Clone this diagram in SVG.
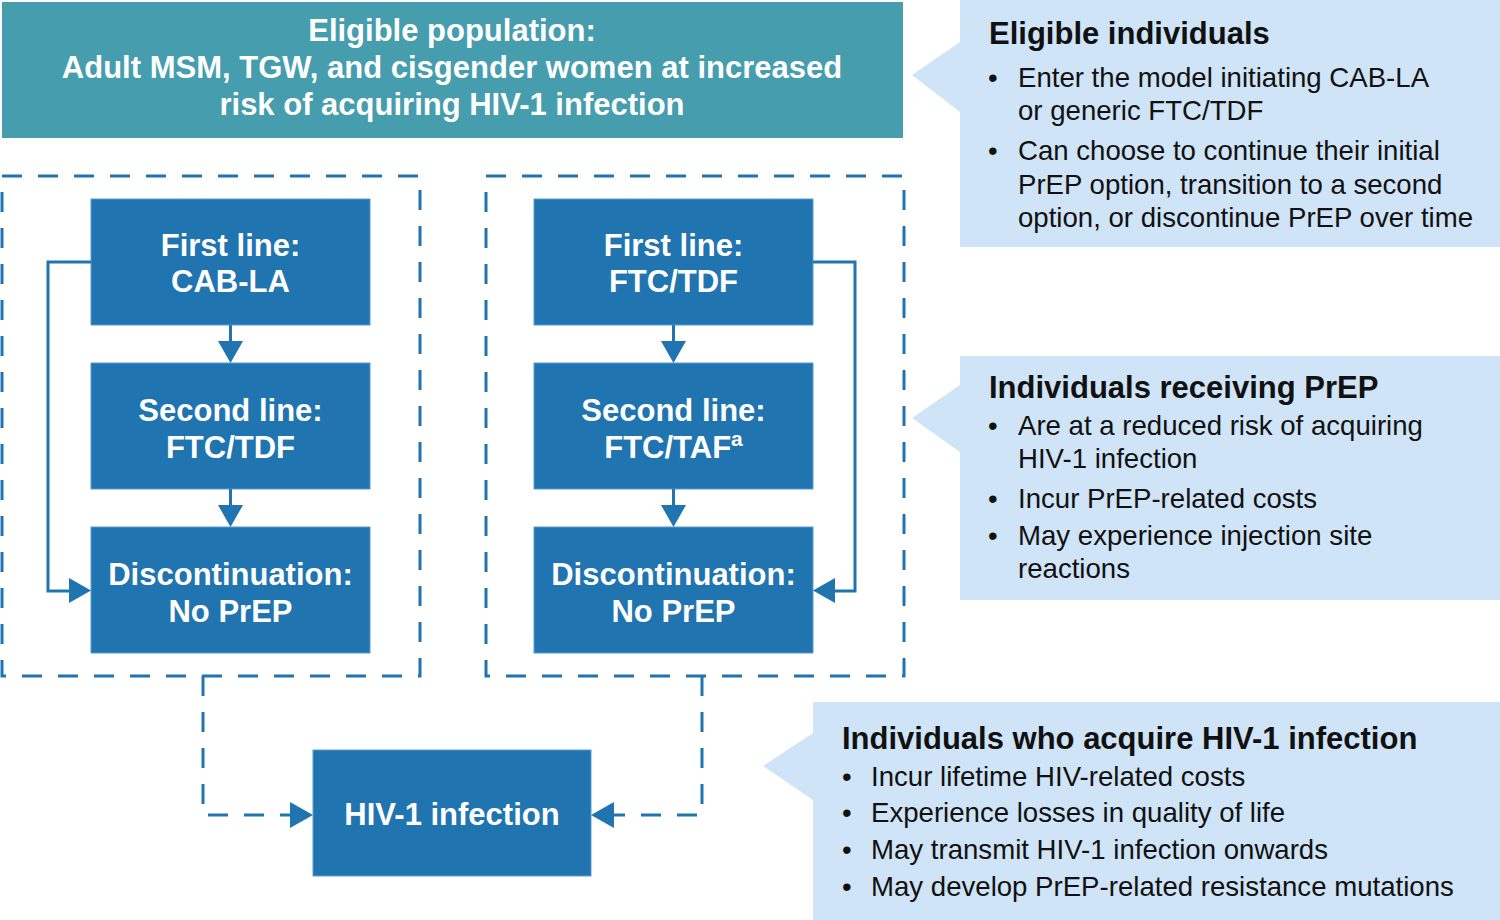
<svg xmlns="http://www.w3.org/2000/svg" width="1500" height="920" viewBox="0 0 1500 920">
<defs>
<style>
.box{fill:#2074b0;stroke:#5b9bd0;stroke-width:1}
.bt{font-family:"Liberation Sans",Arial,sans-serif;font-weight:bold;font-size:31px;fill:#fff;text-anchor:middle}
.dash{fill:none;stroke:#2074b0;stroke-width:3;stroke-dasharray:20 16}
.solid{fill:none;stroke:#2074b0;stroke-width:3}
.head{fill:#2074b0}
.call{fill:#cfe4f7}
.ct{font-family:"Liberation Sans",Arial,sans-serif;font-weight:bold;font-size:31px;fill:#111}
.cb{font-family:"Liberation Sans",Arial,sans-serif;font-size:27.6px;fill:#111}
</style>
</defs>
<rect width="1500" height="920" fill="#fff"/>

<g id="eligible-population">
<rect x="2" y="2" width="901" height="136" fill="#459dae"/>
<text class="bt" x="452" y="41">Eligible population:</text>
<text class="bt" x="452" y="78">Adult MSM, TGW, and cisgender women at increased</text>
<text class="bt" x="452" y="115">risk of acquiring HIV-1 infection</text>
</g>

<g id="group-cab">
<rect class="dash" x="2" y="176" width="418" height="500"/>
</g>
<g id="group-ftc">
<rect class="dash" x="486" y="176" width="418" height="500"/>
</g>

<g id="cab-first">
<rect class="box" x="91" y="199" width="279" height="126"/>
<text class="bt" x="230.5" y="256">First line:</text>
<text class="bt" x="230.5" y="292">CAB-LA</text>
</g>
<g id="cab-second">
<rect class="box" x="91" y="363" width="279" height="126"/>
<text class="bt" x="230.5" y="421">Second line:</text>
<text class="bt" x="230.5" y="458">FTC/TDF</text>
</g>
<g id="cab-disc">
<rect class="box" x="91" y="527" width="279" height="126"/>
<text class="bt" x="230.5" y="585">Discontinuation:</text>
<text class="bt" x="230.5" y="622">No PrEP</text>
</g>

<g id="ftc-first">
<rect class="box" x="534" y="199" width="279" height="126"/>
<text class="bt" x="673.5" y="256">First line:</text>
<text class="bt" x="673.5" y="292">FTC/TDF</text>
</g>
<g id="ftc-second">
<rect class="box" x="534" y="363" width="279" height="126"/>
<text class="bt" x="673.5" y="421">Second line:</text>
<text class="bt" x="673.5" y="458">FTC/TAF<tspan font-size="21" dy="-12">a</tspan></text>
</g>
<g id="ftc-disc">
<rect class="box" x="534" y="527" width="279" height="126"/>
<text class="bt" x="673.5" y="585">Discontinuation:</text>
<text class="bt" x="673.5" y="622">No PrEP</text>
</g>

<g id="hiv-infection">
<rect class="box" x="313" y="750" width="278" height="126"/>
<text class="bt" x="452" y="825">HIV-1 infection</text>
</g>

<g id="connectors">
<line class="solid" x1="230.5" y1="325" x2="230.5" y2="342"/>
<polygon class="head" points="218,341 243,341 230.5,363"/>
<line class="solid" x1="230.5" y1="489" x2="230.5" y2="506"/>
<polygon class="head" points="218,505 243,505 230.5,527"/>
<line class="solid" x1="673.5" y1="325" x2="673.5" y2="342"/>
<polygon class="head" points="661,341 686,341 673.5,363"/>
<line class="solid" x1="673.5" y1="489" x2="673.5" y2="506"/>
<polygon class="head" points="661,505 686,505 673.5,527"/>
<polyline class="solid" points="91,262 48,262 48,591 70,591"/>
<polygon class="head" points="69,578 69,603 91,590.5"/>
<polyline class="solid" points="813,262 855,262 855,591 834,591"/>
<polygon class="head" points="835,578 835,603 813,590.5"/>
<polyline class="dash" points="203,676 203,815 290,815"/>
<polygon class="head" points="290,802 290,828 313,815"/>
<polyline class="dash" points="702,676 702,815 614,815"/>
<polygon class="head" points="614,802 614,828 591,815"/>
</g>

<g id="callout-eligible">
<path class="call" d="M960,0 H1500 V247 H960 V112 L912,75 L960,42 Z"/>
<text class="ct" x="989" y="44">Eligible individuals</text>
<text class="cb" x="988" y="87">•</text>
<text class="cb" x="1018" y="87">Enter the model initiating CAB-LA</text>
<text class="cb" x="1018" y="120">or generic FTC/TDF</text>
<text class="cb" x="988" y="160">•</text>
<text class="cb" x="1018" y="160">Can choose to continue their initial</text>
<text class="cb" x="1018" y="194">PrEP option, transition to a second</text>
<text class="cb" x="1018" y="227">option, or discontinue PrEP over time</text>
</g>

<g id="callout-receiving">
<path class="call" d="M960,356 H1500 V600 H960 V452 L912,418 L960,385 Z"/>
<text class="ct" x="989" y="398">Individuals receiving PrEP</text>
<text class="cb" x="988" y="435">•</text>
<text class="cb" x="1018" y="435">Are at a reduced risk of acquiring</text>
<text class="cb" x="1018" y="468">HIV-1 infection</text>
<text class="cb" x="988" y="508">•</text>
<text class="cb" x="1018" y="508">Incur PrEP-related costs</text>
<text class="cb" x="988" y="545">•</text>
<text class="cb" x="1018" y="545">May experience injection site</text>
<text class="cb" x="1018" y="578">reactions</text>
</g>

<g id="callout-acquire">
<path class="call" d="M813,702 H1500 V920 H813 V800 L763,766 L813,733 Z"/>
<text class="ct" x="842" y="749">Individuals who acquire HIV-1 infection</text>
<text class="cb" x="842" y="786">•</text>
<text class="cb" x="871" y="786">Incur lifetime HIV-related costs</text>
<text class="cb" x="842" y="822">•</text>
<text class="cb" x="871" y="822">Experience losses in quality of life</text>
<text class="cb" x="842" y="859">•</text>
<text class="cb" x="871" y="859">May transmit HIV-1 infection onwards</text>
<text class="cb" x="842" y="896">•</text>
<text class="cb" x="871" y="896">May develop PrEP-related resistance mutations</text>
</g>
</svg>
